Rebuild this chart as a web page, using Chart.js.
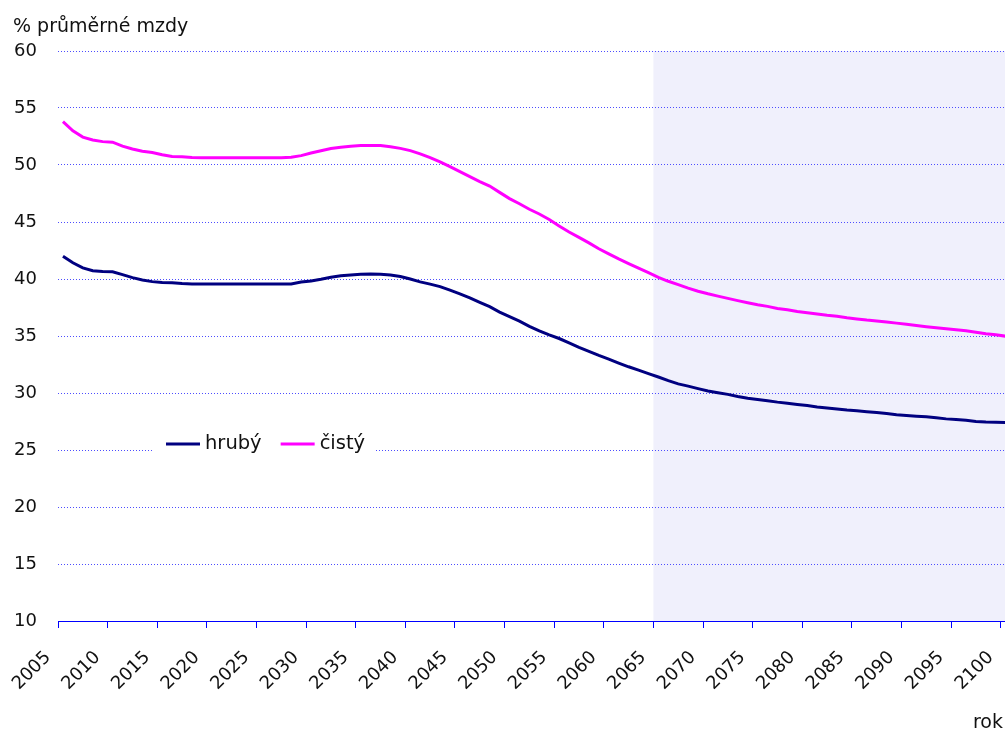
<!DOCTYPE html>
<html lang="cs">
<head>
<meta charset="utf-8">
<title>Průměrný důchod v % průměrné mzdy</title>
<script src="https://cdn.jsdelivr.net/npm/chart.js@4.4.1/dist/chart.umd.min.js"></script>
<style>
    html, body { margin: 0; padding: 0; background: #fff; }
    #obal { width: 1005px; height: 731px; position: relative; }
</style>
</head>
<body>
<div id="obal"><canvas id="graf"></canvas></div>
<script>
// --- Data ---
const ROKY = [
    2005, 2006, 2007, 2008, 2009, 2010, 2011, 2012, 2013, 2014,
    2015, 2016, 2017, 2018, 2019, 2020, 2021, 2022, 2023, 2024,
    2025, 2026, 2027, 2028, 2029, 2030, 2031, 2032, 2033, 2034,
    2035, 2036, 2037, 2038, 2039, 2040, 2041, 2042, 2043, 2044,
    2045, 2046, 2047, 2048, 2049, 2050, 2051, 2052, 2053, 2054,
    2055, 2056, 2057, 2058, 2059, 2060, 2061, 2062, 2063, 2064,
    2065, 2066, 2067, 2068, 2069, 2070, 2071, 2072, 2073, 2074,
    2075, 2076, 2077, 2078, 2079, 2080, 2081, 2082, 2083, 2084,
    2085, 2086, 2087, 2088, 2089, 2090, 2091, 2092, 2093, 2094,
    2095, 2096, 2097, 2098, 2099, 2100
];

const HRUBY = [
    42.0, 41.42, 40.98, 40.72, 40.66, 40.64, 40.38, 40.12, 39.92, 39.77,
    39.69, 39.68, 39.6, 39.56, 39.56, 39.56, 39.56, 39.56, 39.56, 39.56,
    39.56, 39.56, 39.56, 39.56, 39.74, 39.83, 39.98, 40.15, 40.28, 40.36,
    40.42, 40.44, 40.42, 40.35, 40.22, 40.0, 39.75, 39.55, 39.33, 39.02,
    38.7, 38.35, 37.95, 37.57, 37.1, 36.7, 36.3, 35.85, 35.45, 35.1,
    34.78, 34.4, 34.0, 33.65, 33.3, 32.98, 32.63, 32.3, 32.0, 31.7,
    31.4, 31.08, 30.8, 30.6, 30.38, 30.17, 30.02, 29.88, 29.7, 29.54,
    29.43, 29.32, 29.2, 29.1, 29.0, 28.9, 28.77, 28.68, 28.6, 28.51,
    28.44, 28.36, 28.29, 28.2, 28.1, 28.03, 27.97, 27.91, 27.82, 27.73,
    27.67, 27.6, 27.5, 27.45, 27.43, 27.42
];

const CISTY = [
    53.8, 53.0, 52.45, 52.2, 52.05, 52.0, 51.65, 51.4, 51.2, 51.1,
    50.9, 50.75, 50.72, 50.65, 50.64, 50.64, 50.64, 50.64, 50.64, 50.64,
    50.64, 50.64, 50.64, 50.68, 50.82, 51.05, 51.25, 51.45, 51.55, 51.65,
    51.7, 51.72, 51.7, 51.6, 51.46, 51.26, 50.98, 50.65, 50.28, 49.85,
    49.42, 48.98, 48.55, 48.15, 47.6, 47.05, 46.6, 46.12, 45.7, 45.22,
    44.65, 44.12, 43.65, 43.17, 42.65, 42.2, 41.76, 41.35, 40.95, 40.55,
    40.15, 39.8, 39.5, 39.2, 38.93, 38.7, 38.5, 38.3, 38.1, 37.92,
    37.75, 37.6, 37.42, 37.3, 37.15, 37.04, 36.93, 36.82, 36.73, 36.6,
    36.5, 36.4, 36.32, 36.22, 36.13, 36.03, 35.93, 35.82, 35.72, 35.63,
    35.55, 35.46, 35.33, 35.2, 35.1, 34.98
];

const NAZVY_RAD = ['hrubý', 'čistý'];
const OSA_Y = { min: 10, max: 60, krok: 5 };
const OSA_X = { min: 2005, max: 2100, krok: 5 };
const ZACATEK_STINU = 2065; // podbarvená část grafu

const MODRA = '#0000ff';
const FONT = "'DejaVu Sans', sans-serif";

Chart.defaults.font.family = FONT;
Chart.defaults.color = '#111';

// Excel kreslí hodnotu roku doprostřed intervalu
const body = (hodnoty) => hodnoty.map((v, i) => ({ x: ROKY[i] + 0.5, y: v }));

const stinPrognozy = {
    id: 'stinPrognozy',
    beforeDraw(chart) {
        const { ctx, chartArea, scales } = chart;
        const x0 = scales.x.getPixelForValue(ZACATEK_STINU);
        ctx.save();
        ctx.fillStyle = '#f0f0fc';
        ctx.fillRect(x0, chartArea.top, chartArea.right - x0, chartArea.bottom - chartArea.top);
        ctx.restore();
    }
};

const popisky = {
    id: 'popisky',
    afterDraw(chart) {
        const { ctx, chartArea, width, height } = chart;
        ctx.save();
        ctx.fillStyle = '#111';
        ctx.font = `19px ${FONT}`;
        ctx.textBaseline = 'alphabetic';
        ctx.textAlign = 'left';
        ctx.fillText('% průměrné mzdy', 13, 32);
        ctx.textAlign = 'right';
        ctx.fillText('rok', width - 2, height - 3);

        // legenda uvnitř grafu
        ctx.font = `19.5px ${FONT}`;
        ctx.textAlign = 'left';
        ctx.textBaseline = 'middle';
        const y = 444;
        let x = chartArea.left + 108;
        const sirky = chart.data.datasets.map(ds => ctx.measureText(ds.label).width);
        const celkem = sirky.reduce((a, b) => a + b, 0) + 2 * 39 + 19;
        ctx.fillStyle = '#fff';
        ctx.fillRect(x - 14, y - 16, celkem + 24, 32);

        chart.data.datasets.forEach((ds, i) => {
            ctx.strokeStyle = ds.borderColor;
            ctx.lineWidth = 3;
            ctx.beginPath();
            ctx.moveTo(x, y);
            ctx.lineTo(x + 34, y);
            ctx.stroke();
            ctx.fillStyle = '#111';
            ctx.fillText(ds.label, x + 39, y);
            x += 39 + sirky[i] + 19;
        });
        ctx.restore();
    }
};

new Chart(document.getElementById('graf'), {
    type: 'line',
    data: {
        datasets: [
            {
                label: NAZVY_RAD[0],
                data: body(HRUBY),
                borderColor: '#000080',
                borderWidth: 3,
                pointRadius: 0,
                tension: 0
            },
            {
                label: NAZVY_RAD[1],
                data: body(CISTY),
                borderColor: '#ff00ff',
                borderWidth: 3,
                pointRadius: 0,
                tension: 0
            }
        ]
    },
    options: {
        responsive: true,
        maintainAspectRatio: false,
        animation: false,
        layout: { padding: { top: 51, left: 0, right: 0, bottom: 0 } },
        plugins: {
            legend: { display: false },
            tooltip: { enabled: false }
        },
        scales: {
            x: {
                type: 'linear',
                min: OSA_X.min,
                max: OSA_X.max + 0.43,
                border: { display: true, color: MODRA, width: 1 },
                grid: {
                    drawOnChartArea: false,
                    drawTicks: true,
                    tickLength: 7,
                    tickColor: MODRA,
                    tickWidth: 1
                },
                ticks: {
                    stepSize: OSA_X.krok,
                    includeBounds: false,
                    minRotation: 45,
                    maxRotation: 45,
                    autoSkip: false,
                    labelOffset: -10,
                    padding: 19,
                    font: { size: 18 },
                    color: '#111',
                    callback: (v) => String(v)
                },
                afterFit: (s) => {
                    s.height = 110;
                    s.paddingLeft = 0;
                    s.paddingRight = 0;
                }
            },
            y: {
                min: OSA_Y.min,
                max: OSA_Y.max,
                border: { display: false, dash: [1, 2] },
                grid: {
                    color: '#4d4dff',
                    lineWidth: 1,
                    drawTicks: false
                },
                ticks: {
                    stepSize: OSA_Y.krok,
                    padding: 21,
                    font: { size: 18 },
                    color: '#111'
                },
                afterFit: (s) => {
                    s.width = 58;
                    s.paddingTop = 0;
                    s.paddingBottom = 0;
                }
            }
        }
    },
    plugins: [stinPrognozy, popisky]
});
</script>
</body>
</html>
